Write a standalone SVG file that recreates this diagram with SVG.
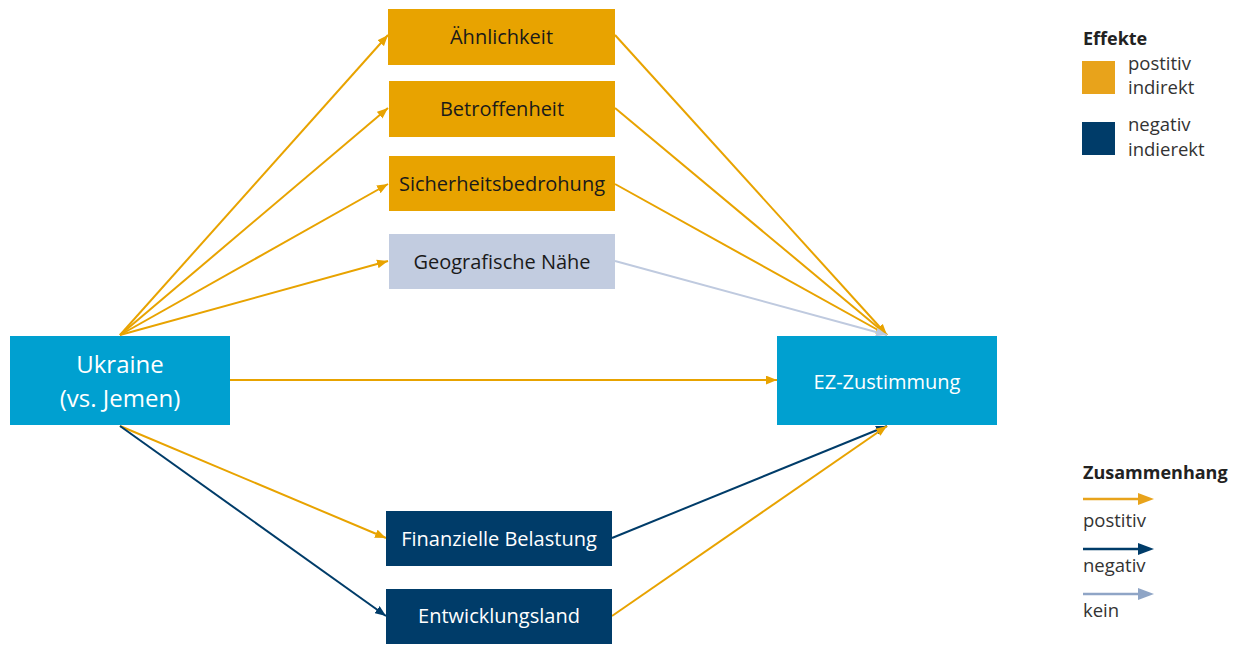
<svg xmlns="http://www.w3.org/2000/svg" width="1240" height="645" viewBox="0 0 1240 645">
<style>
.lbl{font-family:"Open Sans","Liberation Sans",sans-serif;font-size:20px;text-anchor:middle;dominant-baseline:central}
.dark{fill:#1a1a1a}
.light{fill:#ffffff}
.big{font-size:24px}
.leg{font-family:"Open Sans","Liberation Sans",sans-serif;font-size:18.5px;fill:#333333}
.legb{font-family:"Open Sans","Liberation Sans",sans-serif;font-size:18px;font-weight:bold;fill:#222222}
.y{stroke:#E8A300;stroke-width:2;fill:none}
.n{stroke:#003C69;stroke-width:2;fill:none}
.g{stroke:#BFCADF;stroke-width:2;fill:none}
</style>
<defs>
<marker id="ay" viewBox="0 0 10 8" refX="10" refY="4" markerWidth="11" markerHeight="9" markerUnits="userSpaceOnUse" orient="auto"><path d="M0,0 L10,4 L0,8 Z" fill="#E8A300"/></marker>
<marker id="an" viewBox="0 0 10 8" refX="10" refY="4" markerWidth="11" markerHeight="9" markerUnits="userSpaceOnUse" orient="auto"><path d="M0,0 L10,4 L0,8 Z" fill="#003C69"/></marker>
<marker id="ag" viewBox="0 0 10 8" refX="10" refY="4" markerWidth="11" markerHeight="9" markerUnits="userSpaceOnUse" orient="auto"><path d="M0,0 L10,4 L0,8 Z" fill="#BFCADF"/></marker>
</defs>
<g id="connectors">
<line class="y" x1="120" y1="335" x2="388" y2="35" marker-end="url(#ay)"/>
<line class="y" x1="120" y1="335" x2="388" y2="108" marker-end="url(#ay)"/>
<line class="y" x1="120" y1="335" x2="388" y2="184" marker-end="url(#ay)"/>
<line class="y" x1="120" y1="335" x2="388" y2="261" marker-end="url(#ay)"/>
<line class="y" x1="230" y1="380" x2="777" y2="380" marker-end="url(#ay)"/>
<line class="y" x1="120" y1="426" x2="386" y2="538" marker-end="url(#ay)"/>
<line class="n" x1="120" y1="426" x2="386" y2="616" marker-end="url(#an)"/>
<line class="y" x1="615" y1="35" x2="887" y2="335" marker-end="url(#ay)"/>
<line class="y" x1="615" y1="108" x2="887" y2="335" marker-end="url(#ay)"/>
<line class="y" x1="615" y1="184" x2="887" y2="335" marker-end="url(#ay)"/>
<line class="g" x1="615" y1="261" x2="887" y2="335" marker-end="url(#ag)"/>
<line class="n" x1="612" y1="538" x2="887" y2="426" marker-end="url(#an)"/>
<line class="y" x1="612" y1="616" x2="887" y2="426" marker-end="url(#ay)"/>
</g>
<g id="aehnlichkeit"><rect x="388" y="9" width="227" height="56" fill="#E8A300"/><text class="lbl dark" x="501.5" y="36">Ähnlichkeit</text></g>
<g id="betroffenheit"><rect x="389" y="81" width="226" height="56" fill="#E8A300"/><text class="lbl dark" x="502" y="108">Betroffenheit</text></g>
<g id="sicherheitsbedrohung"><rect x="389" y="156" width="226" height="55" fill="#E8A300"/><text class="lbl dark" x="502" y="183">Sicherheitsbedrohung</text></g>
<g id="geografische-naehe"><rect x="389" y="234" width="226" height="55" fill="#C2CCE0"/><text class="lbl dark" x="502" y="261">Geografische Nähe</text></g>
<g id="ukraine"><rect x="10" y="336" width="220" height="89" fill="#00A0D0"/><text class="lbl light big" x="120" y="363">Ukraine</text><text class="lbl light big" x="120" y="397">(vs. Jemen)</text></g>
<g id="ez-zustimmung"><rect x="777" y="336" width="220" height="89" fill="#00A0D0"/><text class="lbl light" x="887" y="381">EZ-Zustimmung</text></g>
<g id="finanzielle-belastung"><rect x="386" y="511" width="226" height="55" fill="#003C69"/><text class="lbl light" x="499" y="538">Finanzielle Belastung</text></g>
<g id="entwicklungsland"><rect x="386" y="589" width="226" height="55" fill="#003C69"/><text class="lbl light" x="499" y="615">Entwicklungsland</text></g>
<g id="legend-effekte">
<text class="legb" x="1083" y="45">Effekte</text>
<rect x="1082" y="61" width="33" height="33" fill="#E8A31B"/>
<text class="leg" x="1128" y="70">postitiv</text>
<text class="leg" x="1128" y="94">indirekt</text>
<rect x="1082" y="122" width="33" height="33" fill="#003C69"/>
<text class="leg" x="1128" y="131">negativ</text>
<text class="leg" x="1128" y="156">indierekt</text>
</g>
<g id="legend-zusammenhang">
<text class="legb" x="1083" y="479">Zusammenhang</text>
<line x1="1083" y1="499" x2="1140" y2="499" stroke="#E8A31B" stroke-width="2.5"/><path d="M1138,493 L1154,499 L1138,505 Z" fill="#E8A31B"/>
<text class="leg" x="1083" y="527">postitiv</text>
<line x1="1083" y1="549" x2="1140" y2="549" stroke="#003C69" stroke-width="2.5"/><path d="M1138,543 L1154,549 L1138,555 Z" fill="#003C69"/>
<text class="leg" x="1083" y="572">negativ</text>
<line x1="1083" y1="594" x2="1140" y2="594" stroke="#8FA5C6" stroke-width="2.5"/><path d="M1138,588 L1154,594 L1138,600 Z" fill="#8FA5C6"/>
<text class="leg" x="1083" y="617">kein</text>
</g>
</svg>
